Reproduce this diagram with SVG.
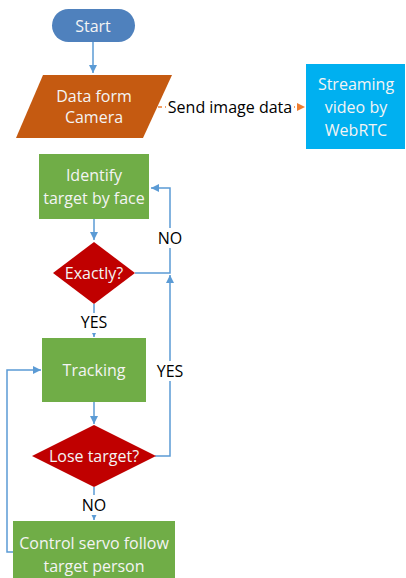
<svg xmlns="http://www.w3.org/2000/svg" width="406" height="578" viewBox="0 0 406 578">
<defs>
<marker id="ab" markerWidth="10" markerHeight="10" refX="9" refY="5" orient="auto" markerUnits="userSpaceOnUse"><path d="M1,1 L9,5 L1,9 Z" fill="#5b9bd5"/></marker>
<marker id="ao" markerWidth="10" markerHeight="10" refX="9" refY="5" orient="auto" markerUnits="userSpaceOnUse"><path d="M1,1 L9,5 L1,9 Z" fill="#ed7d31"/></marker>
</defs>
<style>
.t{font-family:"Open Sans","Liberation Sans",sans-serif;font-size:16px;fill:#f4f4f4;text-anchor:middle;dominant-baseline:central}
.l{font-family:"Open Sans","Liberation Sans",sans-serif;font-size:16px;fill:#000;text-anchor:middle;dominant-baseline:central}
.c{fill:none;stroke:#5b9bd5;stroke-width:1.5}
</style>
<rect width="406" height="578" fill="#fff"/>
<g id="connectors">
<path class="c" d="M93,42 V73" marker-end="url(#ab)"/>
<path d="M158,107 H305" fill="none" stroke="#ed7d31" stroke-width="1.5" stroke-dasharray="4,3" marker-end="url(#ao)"/>
<rect x="166" y="97" width="128" height="20" fill="#fff"/>
<text class="l" x="230" y="107">Send image data</text>
<path class="c" d="M94,219 V240" marker-end="url(#ab)"/>
<path class="c" d="M135,273 H170 V188 H151" marker-end="url(#ab)"/>
<rect x="155" y="228" width="30" height="20" fill="#fff"/>
<text class="l" x="170" y="238">NO</text>
<path class="c" d="M94,304 V337" marker-end="url(#ab)"/>
<rect x="75" y="313" width="38" height="20" fill="#fff"/>
<text class="l" x="94" y="322">YES</text>
<path class="c" d="M155,456 H170 V275" marker-end="url(#ab)"/>
<rect x="152" y="361" width="36" height="20" fill="#fff"/>
<text class="l" x="170" y="371">YES</text>
<path class="c" d="M94,402 V424" marker-end="url(#ab)"/>
<path class="c" d="M94,487 V520" marker-end="url(#ab)"/>
<rect x="78" y="495" width="32" height="20" fill="#fff"/>
<text class="l" x="94" y="505">NO</text>
<path class="c" d="M13,552 H7 V370 H41" marker-end="url(#ab)"/>
</g>
<g id="start">
<rect x="52" y="9" width="83" height="33" rx="16.5" fill="#4f81bd"/>
<text class="t" x="93" y="26">Start</text>
</g>
<g id="camera">
<path d="M43,75 H172 L143,138 H16 Z" fill="#c55a11"/>
<text class="t" x="94" y="96">Data form</text>
<text class="t" x="94" y="117">Camera</text>
</g>
<g id="webrtc">
<rect x="306" y="64" width="99" height="85" fill="#00b0f0"/>
<text class="t" x="356" y="84">Streaming</text>
<text class="t" x="356" y="107">video by</text>
<text class="t" x="356" y="130">WebRTC</text>
</g>
<g id="identify">
<rect x="39" y="154" width="110" height="65" fill="#70ad47"/>
<text class="t" x="94" y="175">Identify</text>
<text class="t" x="94" y="198">target by face</text>
</g>
<g id="exactly">
<path d="M94,242 L135,273 L94,304 L53,273 Z" fill="#c00000"/>
<text class="t" x="94" y="273">Exactly?</text>
</g>
<g id="tracking">
<rect x="42" y="338" width="104" height="64" fill="#70ad47"/>
<text class="t" x="94" y="370">Tracking</text>
</g>
<g id="lose">
<path d="M94,425 L156,456 L94,487 L32,456 Z" fill="#c00000"/>
<text class="t" x="94" y="456">Lose target?</text>
</g>
<g id="control">
<rect x="13" y="521" width="162" height="62" fill="#70ad47"/>
<text class="t" x="94" y="543">Control servo follow</text>
<text class="t" x="94" y="566">target person</text>
</g>
</svg>
